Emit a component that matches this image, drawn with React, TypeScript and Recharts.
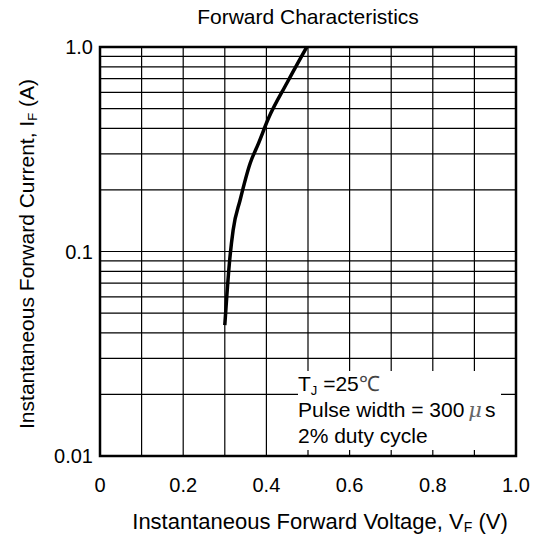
import React from 'react';
import { LineChart, Line, XAxis, YAxis, ReferenceLine, ReferenceArea, Customized } from 'recharts';

const voltage = [0.3, 0.305, 0.311, 0.32, 0.337, 0.361, 0.381, 0.405, 0.449, 0.497];
const current = [0.0437, 0.0613, 0.0875, 0.127, 0.179, 0.27, 0.338, 0.448, 0.665, 1.0];
const xTicks = [0, 0.2, 0.4, 0.6, 0.8, 1.0];
const yTicks = [0.01, 0.1, 1];
const xGrid = [0.1, 0.2, 0.3, 0.4, 0.5, 0.6, 0.7, 0.8, 0.9];
const yGrid = [0.02, 0.03, 0.04, 0.05, 0.06, 0.07, 0.08, 0.09, 0.1, 0.2, 0.3, 0.4, 0.5, 0.6, 0.7, 0.8, 0.9];

const data = voltage.map((v, i) => ({ v, i: current[i] }));

const FONT = '"Liberation Sans", Arial, sans-serif';

const Titles = () => (
  <g fontFamily={FONT} fill="#000">
    <text x={308} y={24} fontSize={21} textAnchor="middle">Forward Characteristics</text>
    <text x={320} y={529} fontSize={22} textAnchor="middle">
      Instantaneous Forward Voltage, V<tspan fontSize={14} dy={3}>F</tspan><tspan dy={-3}> (V)</tspan>
    </text>
    <text x={34} y={254} fontSize={21} textAnchor="middle" transform="rotate(-90, 34, 254)">
      Instantaneous Forward Current, I<tspan fontSize={13} dy={3}>F</tspan><tspan dy={-3}> (A)</tspan>
    </text>
  </g>
);

export default function App() {
  return (
    <div style={{ position: 'absolute', left: 0, top: 0, width: 534, height: 536, background: '#fff' }}>
      <LineChart
        width={534}
        height={536}
        data={data}
        margin={{ top: 47, right: 18, bottom: 50, left: 40 }}
      >
        <XAxis
          dataKey="v"
          type="number"
          domain={[0, 1]}
          ticks={xTicks}
          tickFormatter={(t: number) => (t === 0 ? '0' : t.toFixed(1))}
          axisLine={false}
          tickLine={false}
          tickSize={0}
          tickMargin={22}
          height={30}
          tick={{ fill: '#000', fontSize: 20, fontFamily: FONT }}
          allowDataOverflow
        />
        <YAxis
          dataKey="i"
          type="number"
          scale="log"
          domain={[0.01, 1]}
          ticks={yTicks}
          tickFormatter={(t: number) => (t === 1 ? '1.0' : String(t))}
          axisLine={false}
          tickLine={false}
          tickSize={0}
          tickMargin={7}
          width={60}
          tick={{ fill: '#000', fontSize: 20, fontFamily: FONT }}
          allowDataOverflow
        />
        {xGrid.map((g) => (
          <ReferenceLine key={'x' + g} x={g} stroke="#000" strokeWidth={1.2} />
        ))}
        {yGrid.map((g) => (
          <ReferenceLine key={'y' + g} y={g} stroke="#000" strokeWidth={1.2} />
        ))}
        <ReferenceArea x1={0} x2={1} y1={0.01} y2={1} fill="none" stroke="#000" strokeWidth={2.5} />
        <Line
          type="monotone"
          dataKey="i"
          stroke="#000"
          strokeWidth={3.5}
          dot={false}
          isAnimationActive={false}
        />
        <Customized component={Titles} />
      </LineChart>
      <div
        style={{
          position: 'absolute',
          left: 298,
          top: 371,
          width: 203,
          height: 79,
          background: '#fff',
          fontFamily: FONT,
          fontSize: 21,
          color: '#000',
          whiteSpace: 'nowrap',
        }}
      >
        <div style={{ height: 26, lineHeight: '26px' }}>
          T<span style={{ fontSize: 13, position: 'relative', top: 4 }}>J</span> =25<span style={{ color: '#444' }}>℃</span>
        </div>
        <div style={{ height: 26, lineHeight: '26px' }}>
          Pulse width = 300<span style={{ fontFamily: '"DejaVu Serif", serif', fontStyle: 'italic', color: '#666', margin: '0 3px 0 4px' }}>μ</span>s
        </div>
        <div style={{ height: 26, lineHeight: '26px' }}>2% duty cycle</div>
      </div>
    </div>
  );
}
